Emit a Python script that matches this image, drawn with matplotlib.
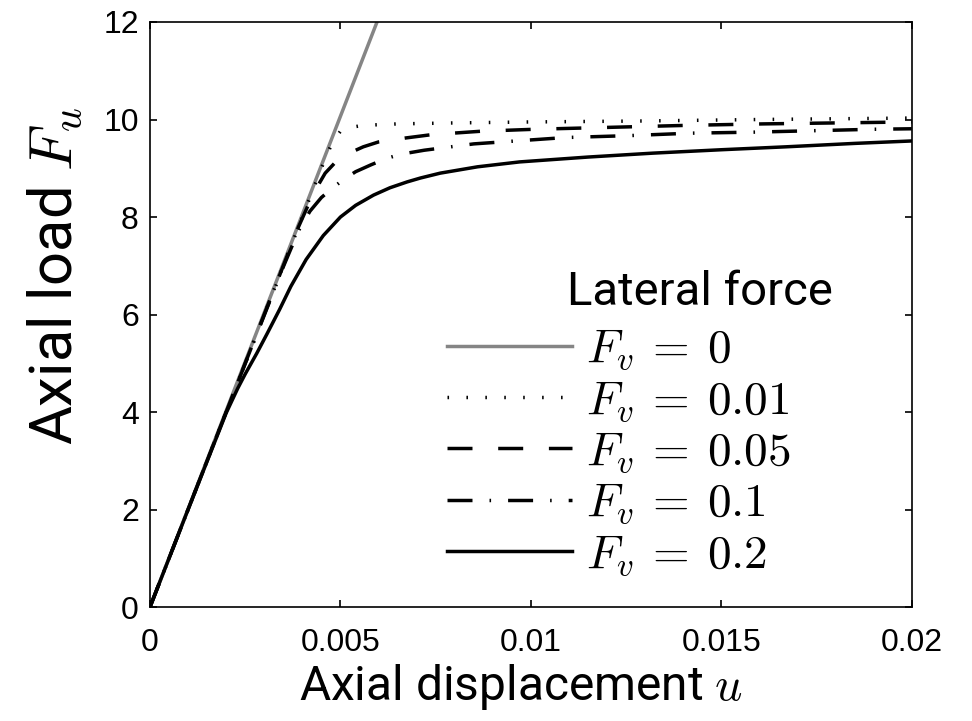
import numpy as np
import matplotlib
matplotlib.use("Agg")
import matplotlib.pyplot as plt

plt.rcParams['mathtext.fontset'] = 'cm'

# values (u, F_u)
u_0 = [0, 0.00596]
F_0 = [0, 12.0]

u_001 = [0, 0.002, 0.004, 0.0046, 0.0048, 0.0050, 0.0052, 0.0056, 0.0065,
         0.008, 0.010, 0.013, 0.016, 0.02]
F_001 = [0, 4.0, 8.0, 9.2, 9.55, 9.76, 9.83, 9.88, 9.91,
         9.93, 9.95, 9.97, 10.0, 10.03]

u_005 = [0, 0.002, 0.0039, 0.0043, 0.0046, 0.0049, 0.0052, 0.0056, 0.006,
         0.0067, 0.0074, 0.0087, 0.0101, 0.0121, 0.0141, 0.0161, 0.018, 0.02]
F_005 = [0, 4.0, 7.8, 8.5, 8.9, 9.15, 9.3, 9.44, 9.54,
         9.62, 9.69, 9.76, 9.80, 9.84, 9.88, 9.91, 9.93, 9.95]

u_01 = [0, 0.002, 0.0035, 0.0039, 0.0042, 0.0045, 0.0048, 0.0051, 0.0054,
        0.0058, 0.0062, 0.0066, 0.0072, 0.0085, 0.0109, 0.0126, 0.0142,
        0.0158, 0.0174, 0.019, 0.02]
F_01 = [0, 4.0, 6.98, 7.72, 8.12, 8.4, 8.6, 8.78, 8.93,
        9.07, 9.2, 9.29, 9.37, 9.5, 9.63, 9.67, 9.72,
        9.74, 9.77, 9.80, 9.81]

u_02 = [0, 0.001, 0.002, 0.0023, 0.0025, 0.0028, 0.00307, 0.0034, 0.0037,
        0.0041, 0.00455, 0.005, 0.0054, 0.00587, 0.0063, 0.00675, 0.0071,
        0.00762, 0.0086, 0.0097, 0.0115, 0.0132, 0.015, 0.0167, 0.0185, 0.02]
F_02 = [0, 2.0, 3.98, 4.48, 4.78, 5.2, 5.6, 6.1, 6.58,
        7.13, 7.62, 8.0, 8.24, 8.45, 8.6, 8.72, 8.8,
        8.9, 9.03, 9.13, 9.23, 9.31, 9.38, 9.44, 9.51, 9.56]

labels = [r'$F_v\:=\:0$', r'$F_v\:=\:0.01$', r'$F_v\:=\:0.05$',
          r'$F_v\:=\:0.1$', r'$F_v\:=\:0.2$']
xticks = [0, 0.005, 0.01, 0.015, 0.02]
xticklabels = ['0', '0.005', '0.01', '0.015', '0.02']
yticks = [0, 2, 4, 6, 8, 10, 12]

fig = plt.figure(figsize=(9.72, 7.21), dpi=100)
ax = fig.add_axes([0.1543, 0.158, 0.7838, 0.8115])

lw = 2.5
ax.plot(u_0, F_0, color='#858585', lw=lw, label=labels[0])
ax.plot(u_001, F_001, color='k', lw=lw, dashes=(0.45, 5.0), label=labels[1])
ax.plot(u_005, F_005, color='k', lw=lw, dashes=(7.2, 7.4), label=labels[2])
ax.plot(u_01, F_01, color='k', lw=lw, dashes=(7.2, 4.9, 0.45, 4.9), label=labels[3])
ax.plot(u_02, F_02, color='k', lw=lw, label=labels[4])

ax.set_xlim(0, 0.02)
ax.set_ylim(0, 12)
ax.set_xticks(xticks)
ax.set_xticklabels(xticklabels)
ax.set_yticks(yticks)
for s in ax.spines.values():
    s.set_linewidth(1.2)
ax.tick_params(direction='in', length=5, width=1.2, top=True, right=True,
               labelsize=23)
ax.tick_params(axis='x', pad=15)
ax.tick_params(axis='y', pad=8)
for t in ax.get_xticklabels() + ax.get_yticklabels():
    t.set_fontfamily('Liberation Sans')

ax.set_xlabel(r'Axial displacement $u$', fontsize=34.5, family='Roboto',
              labelpad=3, x=0.4875)
ax.set_ylabel(r'Axial load $F_u$', fontsize=43, family='Roboto',
              labelpad=14, y=0.565)

leg = ax.legend(loc='lower left', bbox_to_anchor=(0.39, 0.05), frameon=False,
                fontsize=34, handlelength=2.65, handletextpad=0.3,
                labelspacing=0.135, borderpad=0, borderaxespad=0)
ax.text(0.548, 0.516, 'Lateral force', transform=ax.transAxes, fontsize=34,
        family='Roboto', ha='left', va='baseline')

fig.savefig('out.png', dpi=100)
